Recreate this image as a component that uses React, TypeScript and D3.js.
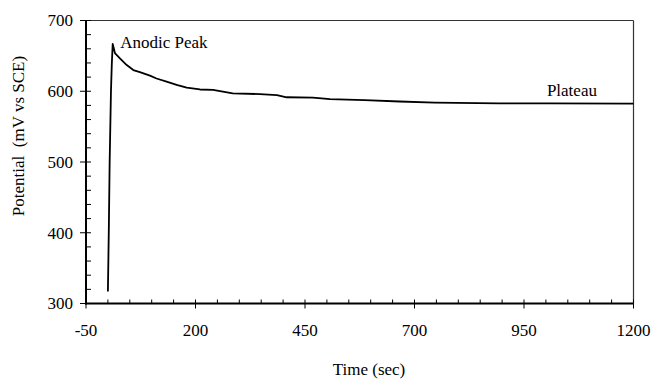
import React from "react";
import * as d3 from "d3";

const timeSec = [0, 2, 4, 7, 9, 11, 16, 28, 43, 58, 73, 96, 111, 134, 157, 180, 210, 240, 285, 347, 386, 408, 468, 507, 586, 666, 746, 894, 1006, 1200];
const potential = [317, 400, 500, 600, 640, 667, 654, 646, 637, 630, 627, 622, 618, 613.5, 609, 605, 602.5, 602, 597, 596, 594.5, 591.5, 591, 589, 587.5, 585.5, 584, 583, 583, 582.5];
const xTicks = [-50, 200, 450, 700, 950, 1200];
const yTicks = [300, 400, 500, 600, 700];
const annotations = [
  { label: "Anodic Peak", t: 11, v: 667 },
  { label: "Plateau", t: 1000, v: 583 },
];

const W = 653;
const H = 379;
const M = { left: 86, right: 633.5, top: 20.5, bottom: 303.5 };
const FONT = "Liberation Serif, Times New Roman, serif";
const txt = { fontFamily: FONT, fontSize: "17px" } as React.CSSProperties;

export default function App() {
  const x = d3.scaleLinear().domain([-50, 1200]).range([M.left, M.right]);
  const y = d3.scaleLinear().domain([300, 700]).range([M.bottom, M.top]);
  const data = timeSec.map((t, i) => ({ t, v: potential[i] }));
  const line = d3
    .line<{ t: number; v: number }>()
    .x((d) => x(d.t))
    .y((d) => y(d.v));

  const xMinor = d3.range(-50, 1201, 50);
  const yMinor = d3.range(300, 701, 20);

  return (
    <svg
      width={W}
      height={H}
      style={{ position: "absolute", left: 0, top: 0, background: "#fff", fontFamily: FONT }}
    >
      <rect x={0} y={0} width={W} height={H} fill="#fff" />
      {/* top & right border */}
      <line x1={M.left} x2={M.right} y1={M.top} y2={M.top} stroke="#333" strokeWidth={1.2} />
      <line x1={M.right} x2={M.right} y1={M.top} y2={M.bottom} stroke="#333" strokeWidth={1.2} />
      {/* minor ticks */}
      {yMinor.map((v) => (
        <line key={"ym" + v} x1={M.left} x2={M.left + 5} y1={y(v)} y2={y(v)} stroke="#000" strokeWidth={1} />
      ))}
      {xMinor.map((t) => (
        <line key={"xm" + t} x1={x(t)} x2={x(t)} y1={M.bottom} y2={M.bottom - 4} stroke="#000" strokeWidth={1} />
      ))}
      {/* major ticks */}
      {yTicks.map((v) => (
        <g key={"y" + v}>
          <line x1={M.left - 6} x2={M.left} y1={y(v)} y2={y(v)} stroke="#000" strokeWidth={1} />
          <text x={73} y={y(v)} dy="0.35em" textAnchor="end" style={txt} fill="#000">
            {v}
          </text>
        </g>
      ))}
      {xTicks.map((t) => (
        <g key={"x" + t}>
          <line x1={x(t)} x2={x(t)} y1={M.bottom} y2={M.bottom + 5} stroke="#000" strokeWidth={1} />
          <text x={x(t)} y={336} textAnchor="middle" style={txt} fill="#000">
            {t}
          </text>
        </g>
      ))}
      {/* axes */}
      <line x1={M.left} x2={M.left} y1={M.top} y2={M.bottom + 1} stroke="#000" strokeWidth={2} />
      <line x1={M.left - 1} x2={M.right} y1={M.bottom} y2={M.bottom} stroke="#000" strokeWidth={2} />
      {/* data line */}
      <path d={line(data) || ""} fill="none" stroke="#000" strokeWidth={1.8} strokeLinejoin="round" />
      {/* annotations */}
      <text x={x(annotations[0].t) + 7.5} y={48} style={txt} fill="#000">
        {annotations[0].label}
      </text>
      <text x={x(annotations[1].t) + 1} y={96} style={txt} fill="#000">
        {annotations[1].label}
      </text>
      {/* axis titles */}
      <text x={369} y={375} textAnchor="middle" style={txt} fill="#000">
        Time (sec)
      </text>
      <text
        transform={`translate(24, 136) rotate(-90)`}
        textAnchor="middle"
        style={{ ...txt, whiteSpace: "pre" }}
        fill="#000"
      >
        {"Potential  (mV vs SCE)"}
      </text>
    </svg>
  );
}
